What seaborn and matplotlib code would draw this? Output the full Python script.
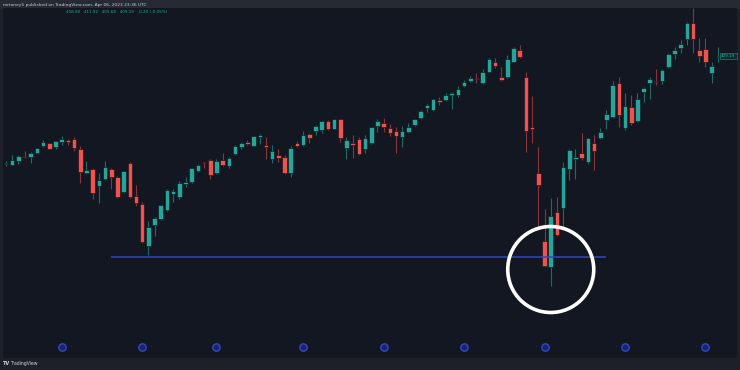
import numpy as np
import pandas as pd
import matplotlib
matplotlib.use("Agg")
import matplotlib.pyplot as plt
from matplotlib.patches import Ellipse, Rectangle
import seaborn as sns

# ---- data (weekly candles) ----
opens = [301.7, 301.3, 305.3, 310.3, 309.0, 313.3, 320.0, 322.7, 319.3, 323.7,
         325.7, 327.0, 317.3, 293.3, 297.0, 280.0, 287.0, 297.3, 289.0, 273.7,
         303.3, 270.0, 261.7, 220.3, 241.0, 247.3, 256.0, 271.7, 268.7, 282.0,
         284.3, 295.0, 304.3, 306.0, 292.7, 306.0, 299.7, 311.7, 319.0, 324.0,
         320.3, 329.3, 321.0, 307.0, 311.0, 309.3, 292.7, 322.7, 321.0, 331.7,
         335.3, 336.0, 345.3, 337.0, 346.7, 318.3, 322.7, 327.3, 316.7, 323.3,
         340.0, 342.7, 338.3, 335.0, 328.7, 334.0, 341.0, 347.7, 357.7, 356.0,
         366.0, 365.7, 371.3, 370.7, 380.3, 385.0, 388.3, 382.7, 394.3, 404.0,
         389.0, 388.7, 404.3, 416.0, 388.7, 339.0, 293.3, 225.3, 198.7, 254.0,
         258.3, 296.7, 307.3, 313.3, 304.3, 323.3, 328.3, 346.0, 349.3, 383.3,
         337.7, 358.7, 345.3, 374.3, 382.7, 385.3, 385.3, 398.7, 412.0, 417.7,
         426.7, 443.3, 416.0, 417.3, 393.3, 408.7]
highs = [304.7, 311.0, 311.0, 314.7, 313.7, 318.3, 326.0, 323.3, 325.3, 330.3,
         326.7, 329.0, 320.0, 305.0, 297.7, 292.7, 305.0, 298.0, 289.7, 295.3,
         304.0, 281.0, 264.3, 245.3, 248.7, 261.0, 276.7, 276.7, 285.0, 289.3,
         298.3, 301.7, 304.3, 306.7, 306.7, 313.3, 308.7, 320.7, 323.7, 326.0,
         330.3, 332.3, 329.3, 321.0, 316.7, 311.0, 320.0, 325.3, 335.0, 332.7,
         341.0, 345.3, 346.0, 347.3, 347.3, 329.3, 331.0, 329.3, 331.0, 339.3,
         347.3, 348.0, 342.0, 339.3, 340.0, 342.7, 347.3, 356.0, 361.7, 367.3,
         368.7, 373.3, 374.3, 380.0, 386.0, 390.0, 392.7, 396.7, 407.7, 407.7,
         399.3, 410.7, 418.7, 421.0, 393.7, 370.0, 319.3, 256.7, 268.3, 269.3,
         304.3, 317.0, 316.7, 332.7, 328.3, 331.0, 337.7, 356.0, 385.0, 389.3,
         373.3, 371.0, 372.7, 378.7, 388.7, 396.7, 396.7, 412.7, 419.3, 426.0,
         444.3, 457.7, 427.7, 428.3, 404.3, 419.3]
lows = [300.0, 301.0, 301.7, 307.7, 303.3, 312.7, 319.3, 316.7, 316.7, 320.7,
        321.3, 315.3, 283.3, 291.7, 267.0, 262.7, 286.0, 277.0, 268.3, 273.0,
        267.7, 260.0, 223.3, 210.7, 230.3, 246.0, 255.0, 264.3, 266.7, 278.7,
        282.7, 294.3, 297.7, 287.3, 292.0, 300.3, 298.0, 311.0, 316.7, 321.0,
        319.7, 322.3, 307.0, 302.7, 304.3, 292.0, 288.7, 319.3, 320.0, 323.3,
        331.0, 333.3, 335.7, 336.7, 324.3, 306.7, 307.7, 311.0, 313.3, 322.0,
        334.3, 334.3, 330.0, 312.7, 319.3, 333.3, 340.0, 346.7, 354.3, 355.3,
        361.0, 365.0, 356.7, 368.7, 379.3, 384.0, 382.7, 382.0, 393.7, 397.7,
        384.7, 388.0, 403.7, 407.7, 314.3, 323.3, 239.3, 199.3, 180.0, 230.0,
        239.3, 286.0, 286.7, 306.0, 302.0, 296.0, 326.7, 336.7, 347.7, 339.3,
        336.0, 341.0, 344.3, 364.3, 366.7, 381.0, 382.0, 397.7, 406.7, 412.7,
        421.0, 412.7, 404.3, 399.3, 382.7, 404.3]
closes = [303.0, 306.0, 310.0, 308.7, 313.3, 318.0, 323.7, 317.3, 325.0, 327.3,
          323.7, 317.7, 294.0, 295.7, 273.3, 286.3, 298.7, 289.3, 268.7, 294.7,
          269.3, 263.3, 223.7, 238.7, 248.0, 260.7, 276.0, 275.0, 283.0, 284.3,
          297.7, 301.0, 303.0, 291.0, 305.3, 301.0, 308.0, 320.0, 323.3, 322.3,
          330.0, 331.3, 318.7, 315.0, 307.7, 292.7, 318.3, 320.3, 331.3, 328.3,
          340.0, 344.7, 336.7, 346.7, 327.7, 326.3, 321.0, 312.0, 328.3, 338.7,
          345.0, 338.7, 332.7, 330.3, 335.3, 338.7, 346.7, 355.3, 361.0, 366.7,
          364.0, 371.3, 373.0, 377.3, 384.3, 388.3, 386.7, 394.3, 406.7, 400.0,
          386.0, 406.7, 418.0, 408.7, 335.0, 337.0, 281.0, 200.0, 250.0, 231.0,
          299.3, 316.3, 309.3, 307.7, 327.7, 315.0, 333.7, 351.7, 381.0, 351.0,
          360.0, 342.7, 367.3, 378.0, 386.7, 384.0, 396.0, 411.7, 416.0, 421.7,
          443.3, 427.0, 410.3, 403.7, 400.3, 410.3]
dividend_bars = [9, 22, 34, 48, 61, 74, 87, 100, 113]
support_level = 209.5
support_from, support_to = 17, 96.9
highlight_bar, highlight_price = 88, 196.5

header = "mrtoney5 published on TradingView.com, Apr 06, 2023 23:36 UTC"
ohlc_text = "408.80   411.92   405.68   409.19   -0.20 (-0.05%)"
last_label = "409.19"

# ---- styling ----
BG = "#131722"
FRAME = "#1d2029"
UP, DOWN = "#26a69a", "#ef5350"
UP_WICK, DOWN_WICK = "#1f6b64", "#8a3539"

sns.set_theme(style="dark", rc={"axes.facecolor": BG, "figure.facecolor": FRAME})
plt.rcParams["font.family"] = ["DejaVu Sans"]

df = pd.DataFrame({"bar": np.arange(len(opens)), "open": opens, "high": highs,
                   "low": lows, "close": closes})
df["up"] = df["close"] >= df["open"]

W, H = 740, 370
fig = plt.figure(figsize=(W / 100, H / 100), dpi=100)
fig.patch.set_facecolor(FRAME)
fig.add_artist(Rectangle((0, 1 - 8 / H), 1, 8 / H, transform=fig.transFigure,
                         color="#262a33", zorder=0))

ax = fig.add_axes([3 / W, 12.3 / H, 734 / W, 349.7 / H])
ax.set_facecolor(BG)
for s in ax.spines.values():
    s.set_visible(False)
ax.set_xticks([])
ax.set_yticks([])
ax.grid(False)

# wicks
ax.vlines(df.loc[df.up, "bar"], df.loc[df.up, "low"], df.loc[df.up, "high"],
          color=UP_WICK, lw=0.8, zorder=2)
ax.vlines(df.loc[~df.up, "bar"], df.loc[~df.up, "low"], df.loc[~df.up, "high"],
          color=DOWN_WICK, lw=0.8, zorder=2)

# bodies
body = (df["close"] - df["open"]).to_numpy()
body = np.where(np.abs(body) < 1.3, np.where(body >= 0, 1.3, -1.3), body)
ax.bar(df["bar"], body, bottom=df["open"], width=0.74,
       color=np.where(df.up, UP, DOWN), edgecolor="#0d1015", linewidth=0.4, zorder=3)

# support line
ax.hlines(support_level, support_from, support_to, color="#2f45cc", lw=1.1, zorder=4)

# highlight circle
ax.add_patch(Ellipse((highlight_bar, highlight_price), width=86 / 6.19, height=86,
                     fill=False, edgecolor="white", lw=2.6, zorder=5))

# dividend markers
div = pd.DataFrame({"bar": dividend_bars, "y": [119.3] * len(dividend_bars)})
sns.scatterplot(data=div, x="bar", y="y", ax=ax, s=28, color="#1b2466",
                edgecolor="#3446c6", linewidth=1.0, zorder=6, legend=False)
ax.set_xlabel("")
ax.set_ylabel("")
ax.set_xticks([])
ax.set_yticks([])

# last price label
ax.text(115.55, 410.0, last_label, fontsize=3.0, color="#2bb3a3", ha="left", va="center",
        zorder=7, bbox=dict(boxstyle="square,pad=0.35", fc="#0f2a2b", ec="#1f6b64", lw=0.6))

ax.set_xlim(-0.485, 118.09)
ax.set_ylim(108.3, 458.0)

# header & footer texts
fig.text(3 / W, 1 - 4.6 / H, header, fontsize=3.2, color="#c9ccd4", va="center", ha="left")
fig.text(66.5 / W, 1 - 12.3 / H, ohlc_text, fontsize=3.0, color="#26a69a", va="center", ha="left")
fig.text(3 / W, 6.5 / H, "TV", fontsize=3.6, color="#d1d4dc", weight="bold", va="center")
fig.text(10 / W, 6.5 / H, "TradingView", fontsize=3.3, color="#d1d4dc", va="center")

fig.savefig("out.png", dpi=100, facecolor=fig.get_facecolor())
